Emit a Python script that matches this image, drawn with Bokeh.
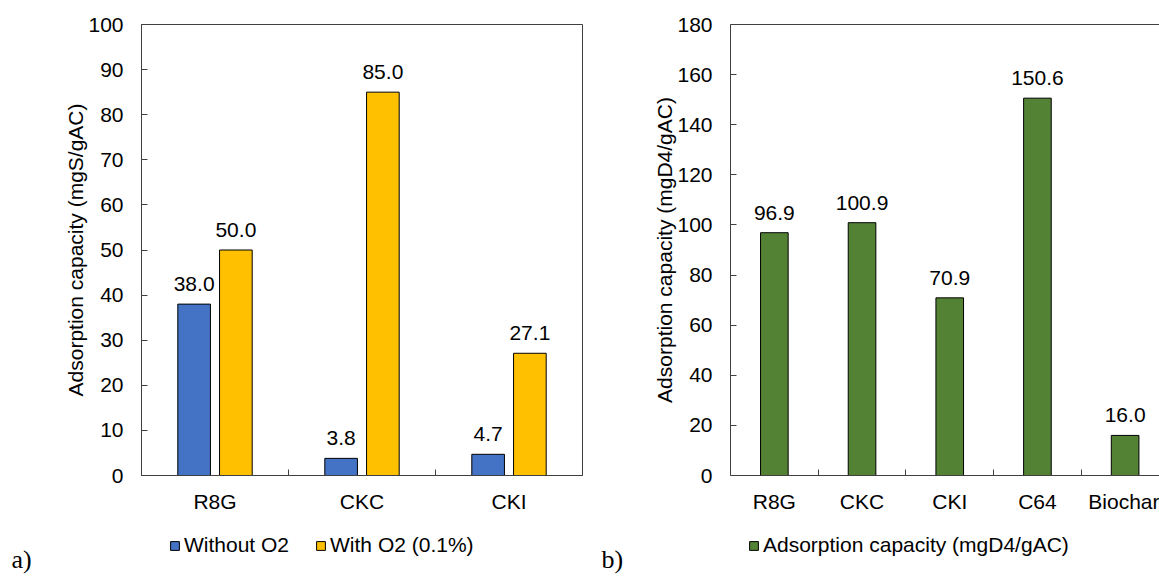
from bokeh.plotting import figure
from bokeh.models import (Range1d, FixedTicker, Legend, LegendItem, Label,
                          LabelSet, LinearAxis, ColumnDataSource)
from bokeh.layouts import row, column
from bokeh.embed import file_html
from bokeh.resources import INLINE
from bokeh.core.properties import value

# ---- data ----
cats_a = ["R8G", "CKC", "CKI"]
without_o2 = [38.0, 3.8, 4.7]
with_o2 = [50.0, 85.0, 27.1]
series_a = ["Without O2", "With O2 (0.1%)"]
yticks_a = [0, 10, 20, 30, 40, 50, 60, 70, 80, 90, 100]

cats_b = ["R8G", "CKC", "CKI", "C64", "Biochar"]
d4_capacity = [96.9, 100.9, 70.9, 150.6, 16.0]
series_b = "Adsorption capacity (mgD4/gAC)"
yticks_b = [0, 20, 40, 60, 80, 100, 120, 140, 160, 180]
panel_tags = ["a)", "b)"]

FONT = "Liberation Sans"
FS = "21px"
AXC = "#404040"
BLUE, YELLOW, GREEN = "#4472C4", "#FFC000", "#548235"
TOP_H, STRIP_H = 515, 61


def style(p, cats, yticks, ylabel):
    n = len(cats)
    p.xaxis.ticker = FixedTicker(ticks=[i + 0.5 for i in range(n)],
                                 minor_ticks=list(range(1, n)))
    p.xaxis.major_label_overrides = {i + 0.5: c for i, c in enumerate(cats)}
    p.yaxis.ticker = FixedTicker(ticks=yticks)
    p.yaxis.axis_label = ylabel
    for ax in (p.xaxis, p.yaxis):
        ax.axis_line_color = AXC
        ax.major_label_text_font = FONT
        ax.major_label_text_font_size = FS
        ax.major_label_text_color = "black"
        ax.major_label_standoff = 18
        ax.minor_tick_in = 6
        ax.minor_tick_out = 0
        ax.minor_tick_line_color = AXC
        ax.axis_label_text_font = FONT
        ax.axis_label_text_font_size = FS
        ax.axis_label_text_font_style = "normal"
        ax.axis_label_text_color = "black"
    p.xaxis.major_tick_line_color = None
    p.xaxis.major_label_standoff = 8
    p.yaxis.major_tick_in = 6
    p.yaxis.major_tick_out = 0
    p.yaxis.major_tick_line_color = AXC
    p.yaxis.minor_tick_line_color = None
    p.yaxis.axis_label_standoff = -2
    p.xgrid.visible = False
    p.ygrid.visible = False
    p.background_fill_color = "white"
    p.border_fill_color = "white"


def value_labels(p, src, xcol, ycol, tcol):
    p.add_layout(LabelSet(x=xcol, y=ycol, text=tcol, source=src,
                          text_align="center", text_baseline="alphabetic",
                          y_offset=13, text_font=value(FONT),
                          text_font_size=value(FS), text_color="black"))


def strip(width, names, colors, legend_x, tag, tag_x, spacing=26):
    s = figure(width=width, height=STRIP_H, output_backend="svg",
               toolbar_location=None, x_axis_type=None, y_axis_type=None,
               x_range=Range1d(0, width), y_range=Range1d(0, STRIP_H),
               min_border=0, outline_line_color=None)
    s.xgrid.visible = False
    s.ygrid.visible = False
    items = []
    for nm, col in zip(names, colors):
        # off-range stand-in renderer, used only for the legend swatch
        r = s.vbar(x=[-width], top=[0], width=1, fill_color=col,
                   line_color="black", line_width=1)
        items.append(LegendItem(label=nm, renderers=[r]))
    leg = Legend(items=items, orientation="horizontal",
                 location=(legend_x, 19), glyph_width=11, glyph_height=11,
                 label_standoff=4, spacing=spacing, padding=0, margin=0,
                 label_height=24, border_line_color=None,
                 background_fill_alpha=0, label_text_font=FONT,
                 label_text_font_size=FS, label_text_color="black")
    s.add_layout(leg, "center")
    s.add_layout(Label(x=tag_x, y=17, x_units="screen", y_units="screen",
                       text=tag, text_font="Liberation Serif",
                       text_font_size="26px", text_color="black",
                       text_baseline="alphabetic"))
    return s


# ---- panel a ----
p1 = figure(width=598, height=TOP_H, output_backend="svg",
            toolbar_location=None,
            x_range=Range1d(0, len(cats_a)), y_range=Range1d(0, 100),
            min_border_left=141, min_border_right=16, min_border_top=24,
            min_border_bottom=40)
style(p1, cats_a, yticks_a, "Adsorption capacity (mgS/gAC)")
p1.outline_line_color = AXC
p1.outline_line_width = 1

xs = list(range(len(cats_a)))
src_a = ColumnDataSource(dict(
    x1=[i + 0.5 - 0.142 for i in xs], x2=[i + 0.5 + 0.142 for i in xs],
    v1=without_o2, v2=with_o2,
    t1=["%.1f" % v for v in without_o2], t2=["%.1f" % v for v in with_o2]))
p1.vbar(x="x1", top="v1", width=0.222, source=src_a, fill_color=BLUE,
        line_color="black", line_width=1)
p1.vbar(x="x2", top="v2", width=0.222, source=src_a, fill_color=YELLOW,
        line_color="black", line_width=1)
value_labels(p1, src_a, "x1", "v1", "t1")
value_labels(p1, src_a, "x2", "v2", "t2")

# ---- panel b ----
p2 = figure(width=561, height=TOP_H, output_backend="svg",
            toolbar_location=None,
            x_range=Range1d(0, 4.892), y_range=Range1d(0, 180),
            min_border_left=132, min_border_right=0, min_border_top=24,
            min_border_bottom=40)
style(p2, cats_b, yticks_b, "Adsorption capacity (mgD4/gAC)")
p2.outline_line_color = None
top_ax = LinearAxis(ticker=FixedTicker(ticks=[]), axis_line_color=AXC,
                    major_tick_line_color=None, minor_tick_line_color=None,
                    major_label_text_font_size="0px", major_label_standoff=0)
p2.add_layout(top_ax, "above")

src_b = ColumnDataSource(dict(
    x=[i + 0.5 for i in range(len(cats_b))], v=d4_capacity,
    t=["%.1f" % v for v in d4_capacity]))
p2.vbar(x="x", top="v", width=0.315, source=src_b, fill_color=GREEN,
        line_color="black", line_width=1)
value_labels(p2, src_b, "x", "v", "t")

# ---- legend strips ----
s1 = strip(598, series_a, [BLUE, YELLOW], 169, panel_tags[0], 11)
s2 = strip(561, [series_b], [GREEN], 150, panel_tags[1], 3)

layout = column(row(p1, p2), row(s1, s2))
open("out.html", "w").write(file_html(layout, INLINE))
